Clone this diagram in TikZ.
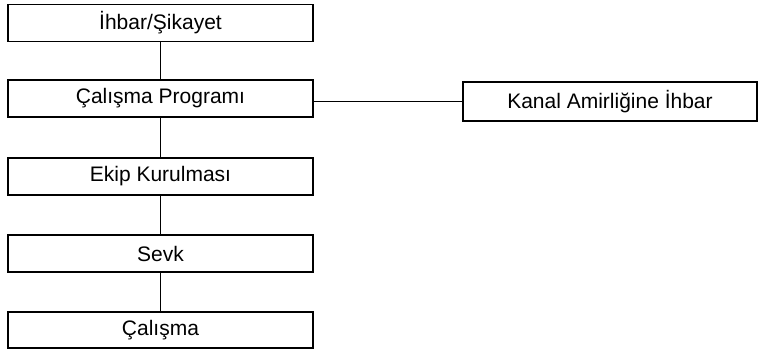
\documentclass[tikz,border=0pt]{standalone}
\usepackage{fontspec}
\setmainfont{Liberation Sans}
\begin{document}
\begin{tikzpicture}[x=1pt,y=1pt,
  box/.style={draw=black,line width=1.1pt,minimum height=37pt,inner sep=0pt,font=\fontsize{21}{24}\selectfont},
  lbox/.style={box,minimum width=305pt},
  conn/.style={draw=black,line width=1.1pt}]
\useasboundingbox (0,0) rectangle (760,349);
\node[lbox] (a) at (160.5,326) {İhbar/Şikayet};
\node[lbox] (b) at (160.5,250.5) {Çalışma Programı};
\node[lbox] (c) at (160.5,172.5) {Ekip Kurulması};
\node[lbox] (d) at (160.5,95.5) {Sevk};
\node[lbox,minimum height=36pt] (e) at (160.5,19) {Çalışma};
\node[box,minimum width=294pt,minimum height=39pt] (r) at (610,247.5) {Kanal Amirliğine İhbar};
\draw[conn] (a) -- (b);
\draw[conn] (b) -- (c);
\draw[conn] (c) -- (d);
\draw[conn] (d) -- (e);
\draw[conn] (b.east |- r.west) -- (r.west);
\end{tikzpicture}
\end{document}
